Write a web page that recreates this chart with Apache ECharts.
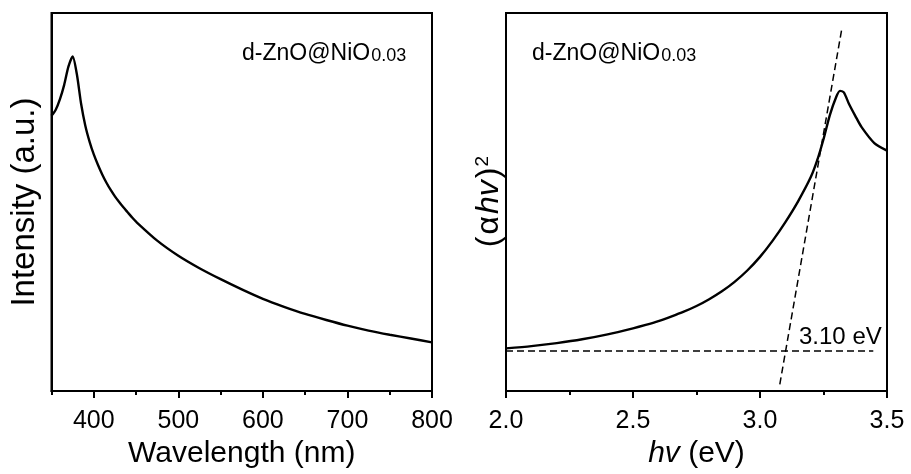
<!DOCTYPE html>
<html>
<head>
<meta charset="utf-8">
<script src="https://cdn.jsdelivr.net/npm/echarts@6/dist/echarts.min.js"></script>
<style>
  html, body { margin: 0; padding: 0; background: #fff; }
  #chart { width: 911px; height: 474px; }
</style>
</head>
<body>
<div id="chart"></div>
<script>
// Emission spectrum: wavelength (nm) vs intensity (a.u.)
const wavelength = [350, 355, 360, 365, 370, 375, 380, 385, 390, 395, 400, 405, 410, 415, 420, 425, 430, 435, 440, 445, 450,
  475, 500, 525, 550, 575, 600, 625, 650, 675, 700, 725, 750, 775, 800];
const intensity = [72.8, 74.4, 77.2, 81.0, 85.8, 88.5, 83.8, 76.0, 70.2, 66.0, 62.6, 59.8, 57.3, 55.1, 53.2, 51.5, 50.0, 48.6, 47.3, 46.0, 44.8,
  39.8, 35.8, 32.5, 29.6, 26.9, 24.4, 22.3, 20.4, 18.8, 17.3, 16.0, 14.9, 13.9, 12.9];

// Tauc plot: photon energy (eV) vs (alpha h nu)^2
const photonEnergy = [2.0, 2.1, 2.2, 2.3, 2.4, 2.5, 2.55, 2.6, 2.65, 2.7, 2.75, 2.8, 2.85, 2.9, 2.95, 3.0, 3.05, 3.1, 3.15, 3.2,
  3.225, 3.25, 3.275, 3.3, 3.315, 3.33, 3.35, 3.375, 3.4, 3.45, 3.5];
const taucValue = [11.3, 11.9, 12.7, 13.7, 15.0, 16.6, 17.5, 18.5, 19.7, 21.0, 22.5, 24.3, 26.4, 28.9, 31.9, 35.5, 39.8, 44.7, 50.2, 56.6,
  61.0, 66.6, 73.0, 77.8, 79.4, 79.0, 76.0, 72.8, 69.8, 65.6, 63.6];

// Linear extrapolation of the absorption edge and the baseline
const bandGap = 3.10;
const baselineLine = [[2.0, 10.6], [3.446, 10.6]];
const tangentLine = [[3.078, 1.8], [3.322, 95.8]];

// Tick positions
const wlMajorTicks = [400, 500, 600, 700, 800];
const wlMinorTicks = [350, 450, 550, 650, 750];
const evMajorTicks = [2.0, 2.5, 3.0, 3.5];
const evMinorTicks = [2.25, 2.75, 3.25];

const sampleName = 'd-ZnO@NiO';
const sampleRatio = '0.03';

const FONT = "'Liberation Sans', Arial, Helvetica, sans-serif";
const BLACK = '#000';

function pairs(xs, ys) { return xs.map((x, i) => [x, ys[i]]); }

function mainX(gridIndex, min, max, ticks, fmt, name) {
  return {
    gridIndex, type: 'value', min, max, position: 'bottom',
    axisLine: { show: true, onZero: false, lineStyle: { color: BLACK, width: 2 } },
    axisTick: { show: true, inside: false, length: 7, customValues: ticks, lineStyle: { color: BLACK, width: 2 } },
    axisLabel: { show: true, customValues: ticks, formatter: fmt, color: BLACK, fontSize: 25, fontFamily: FONT, margin: 18 },
    splitLine: { show: false },
    name, nameLocation: 'middle', nameGap: 41,
    nameTextStyle: {
      color: BLACK, fontSize: 30, fontFamily: FONT,
      rich: { i: { fontStyle: 'italic', fontSize: 30, fontFamily: FONT, color: BLACK } }
    }
  };
}
function minorX(gridIndex, min, max, ticks) {
  return {
    gridIndex, type: 'value', min, max, position: 'bottom',
    axisLine: { show: false, onZero: false },
    axisTick: { show: true, inside: false, length: 4, customValues: ticks, lineStyle: { color: BLACK, width: 2 } },
    axisLabel: { show: false },
    splitLine: { show: false }
  };
}
function plainY(gridIndex, name, gap, size) {
  return {
    gridIndex, type: 'value', min: 0, max: 100,
    axisLine: { show: true, lineStyle: { color: BLACK, width: 2 } },
    axisTick: { show: false }, axisLabel: { show: false }, splitLine: { show: false },
    name, nameLocation: 'middle', nameGap: gap,
    nameTextStyle: {
      color: BLACK, fontSize: size, fontFamily: FONT,
      rich: {
        p: { fontSize: size, fontFamily: FONT, color: BLACK, padding: [0, 1, 0, 1] },
        a: { fontSize: size, fontFamily: FONT, color: BLACK, padding: [0, 1, 0, 1] },
        i: { fontStyle: 'italic', fontSize: size, fontFamily: FONT, color: BLACK, padding: [0, 1, 0, 1] },
        s: { fontSize: Math.round(size * 0.6), fontFamily: FONT, color: BLACK, verticalAlign: 'top' }
      }
    }
  };
}

const labelRich = {
  m: { fontSize: 23, fontFamily: FONT, color: BLACK },
  s: { fontSize: 18, fontFamily: FONT, color: BLACK, verticalAlign: 'bottom', padding: [0, 0, 0, 1] }
};

const chart = echarts.init(document.getElementById('chart'), null, { renderer: 'canvas' });
chart.setOption({
  backgroundColor: '#fff',
  animation: false,
  grid: [
    { left: 51.5, right: 479, top: 13, bottom: 82, show: true, borderColor: BLACK, borderWidth: 2, backgroundColor: 'transparent' },
    { left: 506, right: 24, top: 13, bottom: 82, show: true, borderColor: BLACK, borderWidth: 2, backgroundColor: 'transparent' }
  ],
  xAxis: [
    mainX(0, 350, 800, wlMajorTicks, v => String(v), 'Wavelength (nm)'),
    minorX(0, 350, 800, wlMinorTicks),
    mainX(1, 2.0, 3.5, evMajorTicks, v => v.toFixed(1), '{i|hv} (eV)'),
    minorX(1, 2.0, 3.5, evMinorTicks)
  ],
  yAxis: [
    plainY(0, 'Intensity (a.u.)', 10, 33),
    plainY(1, '{p|(}{a|α}{i|hv}{p|)}{s|2}', 1, 32)
  ],
  series: [
    {
      type: 'line', xAxisIndex: 0, yAxisIndex: 0, data: pairs(wavelength, intensity),
      smooth: 0.25, showSymbol: false, lineStyle: { color: BLACK, width: 2.4 }
    },
    {
      type: 'line', xAxisIndex: 2, yAxisIndex: 1, data: pairs(photonEnergy, taucValue),
      smooth: 0.25, showSymbol: false, lineStyle: { color: BLACK, width: 2.4 }
    },
    {
      type: 'line', xAxisIndex: 2, yAxisIndex: 1, data: baselineLine,
      showSymbol: false, lineStyle: { color: BLACK, width: 1.5, type: [7, 4] }
    },
    {
      type: 'line', xAxisIndex: 2, yAxisIndex: 1, data: tangentLine,
      showSymbol: false, lineStyle: { color: BLACK, width: 1.5, type: [7, 4] }
    }
  ],
  graphic: [
    {
      type: 'text', x: 242, y: 54,
      style: { text: '{m|' + sampleName + '}{s|' + sampleRatio + '}', rich: labelRich, align: 'left', verticalAlign: 'middle' }
    },
    {
      type: 'text', x: 532, y: 54,
      style: { text: '{m|' + sampleName + '}{s|' + sampleRatio + '}', rich: labelRich, align: 'left', verticalAlign: 'middle' }
    },
    {
      type: 'text', x: 799, y: 337,
      style: { text: bandGap.toFixed(2) + ' eV', fill: BLACK, font: '24px ' + FONT, align: 'left', verticalAlign: 'middle' }
    }
  ]
});
</script>
</body>
</html>
